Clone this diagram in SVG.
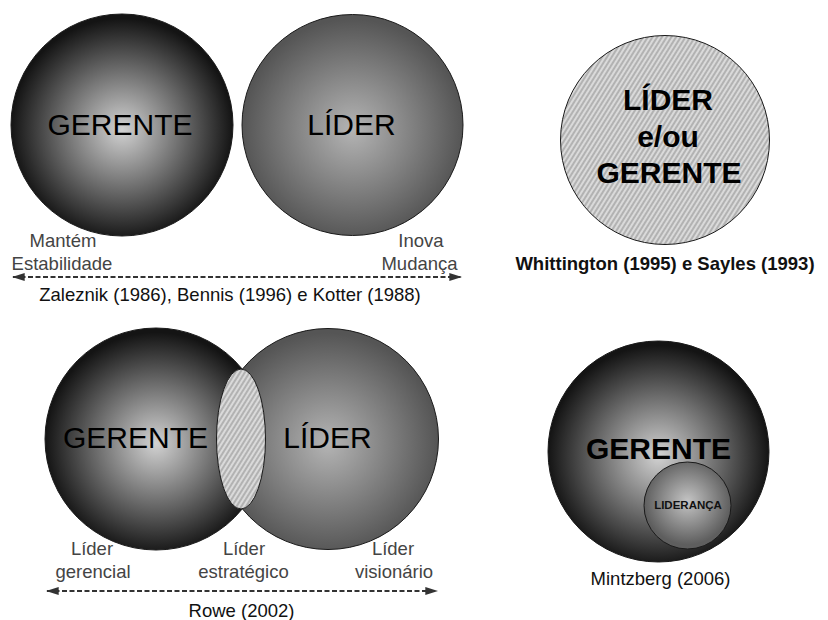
<svg xmlns="http://www.w3.org/2000/svg" width="828" height="620" viewBox="0 0 828 620">
<style>
text{font-family:"Liberation Sans",Arial,sans-serif;text-anchor:middle}
.big{font-size:30px;fill:#000}
.bold{font-weight:bold}
.side{font-size:18.5px;fill:#444}
.cite{font-size:18.5px;fill:#111}
.edge{stroke:#1a1a1a;stroke-width:1}
.arrow{stroke:#333;stroke-width:2;stroke-dasharray:5,2.5;fill:none}
</style>
<defs>
<radialGradient id="gDark" cx="50%" cy="52%" r="50%">
<stop offset="0" stop-color="#d2d2d2"/>
<stop offset="0.55" stop-color="#6a6a6a"/>
<stop offset="1" stop-color="#141414"/>
</radialGradient>
<radialGradient id="gMid" cx="50%" cy="52%" r="50%">
<stop offset="0" stop-color="#b4b4b4"/>
<stop offset="1" stop-color="#555555"/>
</radialGradient>
<radialGradient id="gSmall" cx="50%" cy="45%" r="50%">
<stop offset="0" stop-color="#c4c4c4"/>
<stop offset="1" stop-color="#5e5e5e"/>
</radialGradient>
<pattern id="hatch" width="4" height="4" patternUnits="userSpaceOnUse" patternTransform="rotate(32)">
<rect width="4" height="4" fill="#dadada"/>
<line x1="1" y1="0" x2="1" y2="4" stroke="#8a8a8a" stroke-width="1"/>
</pattern>
<marker id="ah" viewBox="0 0 10 10" refX="9" refY="5" markerWidth="6.5" markerHeight="4" preserveAspectRatio="none" orient="auto-start-reverse" markerUnits="strokeWidth">
<path d="M0,0 L10,5 L0,10 z" fill="#333"/>
</marker>
</defs>

<g id="top-gerente">
<circle cx="122" cy="125" r="111" fill="url(#gDark)" class="edge"/>
<text x="120" y="135" class="big">GERENTE</text>
</g>
<g id="top-lider">
<circle cx="352.5" cy="125" r="110.5" fill="url(#gMid)" class="edge"/>
<text x="351.5" y="135" class="big">LÍDER</text>
</g>
<g id="top-labels">
<text x="63" y="247" class="side">Mantém</text>
<text x="62" y="270" class="side">Estabilidade</text>
<text x="421" y="247" class="side">Inova</text>
<text x="419.5" y="270" class="side">Mudança</text>
<text x="230" y="301" class="cite">Zaleznik (1986), Bennis (1996) e Kotter (1988)</text>
</g>

<g id="lider-gerente">
<circle cx="665" cy="140" r="104.5" fill="url(#hatch)" class="edge"/>
<text x="668" y="110" class="big bold" font-size="29">LÍDER</text>
<text x="668" y="147" class="big bold">e/ou</text>
<text x="669" y="183" class="big bold">GERENTE</text>
<text x="665" y="270" class="cite bold" font-size="18">Whittington (1995) e Sayles (1993)</text>
</g>

<g id="bottom-gerente">
<circle cx="156" cy="439" r="111" fill="url(#gDark)" class="edge"/>
<text x="135.5" y="448" class="big">GERENTE</text>
</g>
<g id="bottom-lider">
<circle cx="328" cy="439" r="110.5" fill="url(#gMid)" class="edge"/>
<text x="327.5" y="448" class="big">LÍDER</text>
</g>
<g id="intersecao">
<ellipse cx="241" cy="439" rx="24.5" ry="70" fill="url(#hatch)" class="edge"/>
</g>
<g id="bottom-labels">
<text x="92" y="555" class="side">Líder</text>
<text x="93" y="578" class="side">gerencial</text>
<text x="244" y="555" class="side">Líder</text>
<text x="243.5" y="578" class="side">estratégico</text>
<text x="393" y="555" class="side">Líder</text>
<text x="394" y="578" class="side">visionário</text>
<text x="241.5" y="617" class="cite">Rowe (2002)</text>
</g>

<g id="mintzberg">
<circle cx="658.5" cy="451.5" r="110.5" fill="url(#gDark)" class="edge"/>
<text x="658.5" y="459" class="big bold">GERENTE</text>
<circle cx="687.5" cy="505.5" r="43.5" fill="url(#gSmall)" class="edge"/>
<text x="688" y="509" class="bold" font-size="11.5" fill="#111">LIDERANÇA</text>
<text x="660.5" y="585" class="cite" font-size="18">Mintzberg (2006)</text>
</g>

<g id="connectors">
<line x1="13" y1="277" x2="461" y2="277" class="arrow" marker-start="url(#ah)" marker-end="url(#ah)"/>
<line x1="47" y1="591" x2="437" y2="591" class="arrow" marker-start="url(#ah)" marker-end="url(#ah)"/>
</g>
</svg>
